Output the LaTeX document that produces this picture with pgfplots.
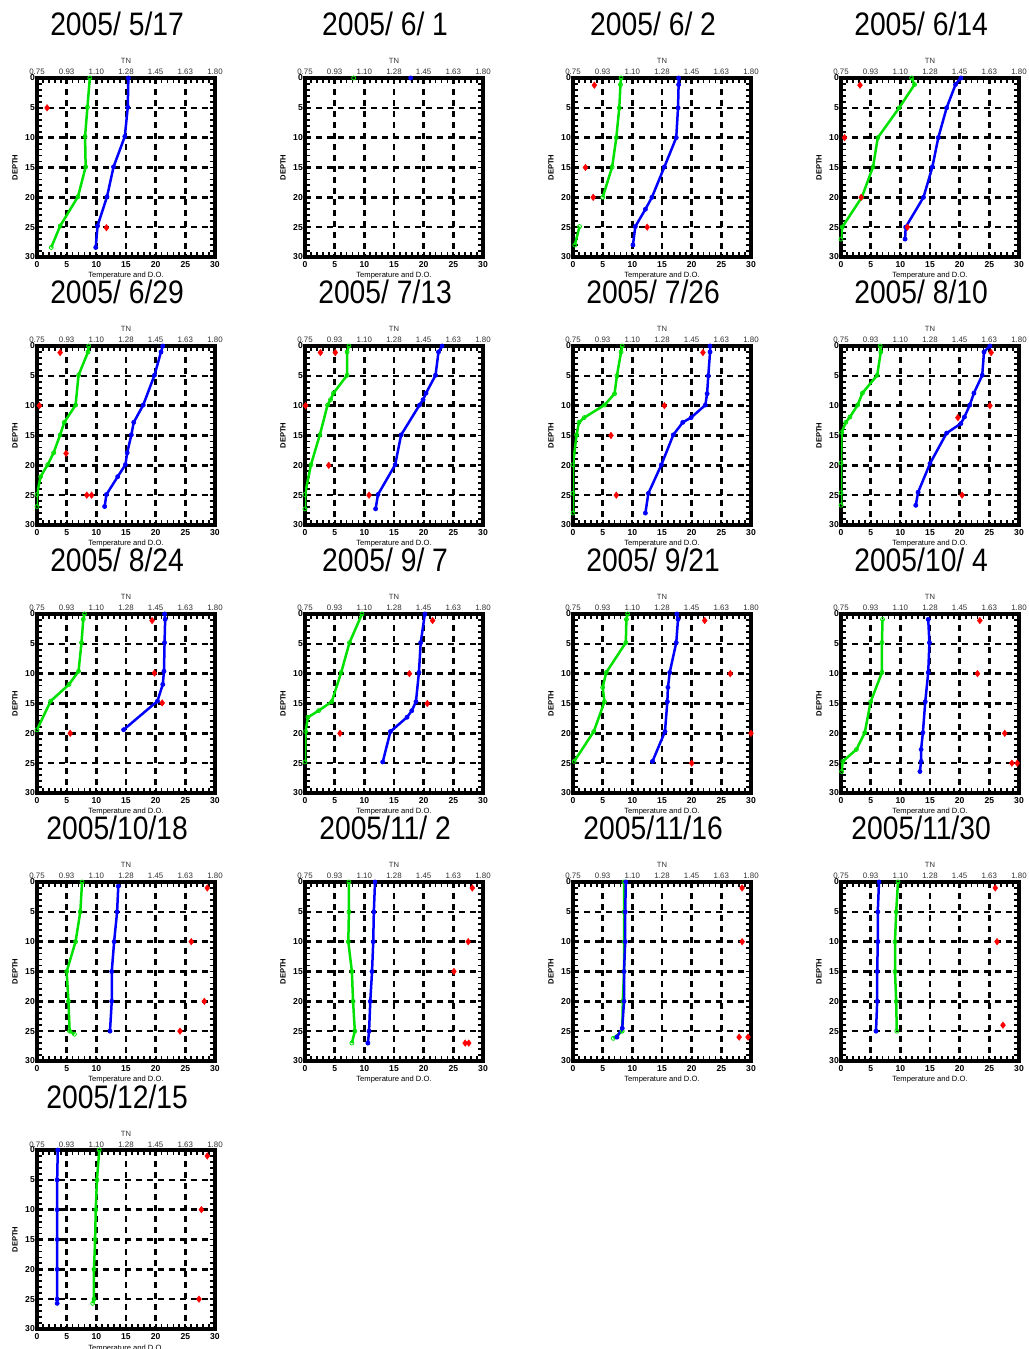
\documentclass[border=0pt]{standalone}
\usepackage{pgfplots}
\pgfplotsset{compat=1.18}
\usepackage{fontspec}
\setmainfont{Liberation Sans}
\newfontfamily\titlefont[FakeStretch=0.87]{Liberation Sans}
\definecolor{dogreen}{RGB}{0,225,0}
\definecolor{tpblue}{RGB}{0,0,255}
\definecolor{tnred}{RGB}{255,0,0}
\pgfplotsset{
  panel/.style={
    width=178pt, height=179pt, scale only axis,
    anchor=south west,
    xmin=0, xmax=30, ymin=0, ymax=30, y dir=reverse,
    xtick={0,5,...,30}, ytick={0,5,...,30},
    minor x tick num=4, minor y tick num=4,
    xtick pos=both, ytick pos=both,
    xticklabel pos=lower, yticklabel pos=left,
    tick align=inside,
    major tick length=5pt, minor tick length=5pt,
    every tick/.style={black, line width=1.8pt},
    axis line style={line width=3.5pt},
    grid=major,
    major grid style={black, line width=2.6pt, dash pattern=on 6pt off 5pt},
    tick label style={font=\bfseries\fontsize{8.6}{9}\selectfont},
    /pgf/number format/assume math mode=true,
    xticklabel style={inner sep=0pt, yshift=-4pt},
    yticklabel style={inner sep=0pt, xshift=-2pt},
    xlabel={Temperature and D.O.},
    xlabel style={font=\fontsize{7.6}{8}\selectfont, at={(axis description cs:0.5,0)}, anchor=base, yshift=-21pt, inner sep=0pt},
    ylabel={DEPTH},
    ylabel style={font=\bfseries\fontsize{7.6}{8}\selectfont, at={(axis description cs:-0.124,0.5)}, anchor=center, inner sep=0pt},
    every axis title shift=0pt,
    title style={font=\titlefont\fontsize{32.5}{35}\selectfont, at={(axis description cs:0.45,1)}, anchor=base, yshift=42pt, inner sep=0pt},
    unbounded coords=jump,
    extra description/.code={
      \foreach \p/\l in {0/0.75, 0.166667/0.93, 0.333333/1.10, 0.5/1.28, 0.666667/1.45, 0.833333/1.63, 1/1.80} {
        \node[anchor=base, inner sep=0pt, font=\fontsize{7.9}{8}\selectfont, text=black!80] at (axis description cs:\p,1) [yshift=3pt] {\l};
      }
      \node[anchor=base, inner sep=0pt, font=\fontsize{7.6}{8}\selectfont, text=black!80] at (axis description cs:0.5,1) [yshift=14pt] {TN};
    },
  },
  tp/.style={tpblue, line width=2.5pt, mark=*, mark size=2.1pt, mark options={solid, line width=0.6pt}},
  do/.style={dogreen, line width=2.5pt, mark=o, mark size=2.0pt, mark options={solid, line width=0.8pt, fill=white}},
  tn/.style={only marks, mark=diamond*, mark size=3.3pt, color=tnred},
}
\begin{document}
\begin{tikzpicture}
\useasboundingbox (0,0) rectangle (1028pt,1349pt);
% ---------- Row 1 ----------
\begin{axis}[panel, at={(37pt,1092pt)}, title={2005/ 5/17}]
\addplot[do] coordinates {(8.9,0) (8.5,4.9) (8.1,9.8) (8.2,14.9) (6.9,19.9) (3.9,24.8) (2.4,28.4)};
\addplot[tp] coordinates {(15.4,0) (15.3,4.9) (14.8,9.8) (12.9,14.9) (11.8,19.9) (10.2,24.8) (9.9,28.4)};
\addplot[tn] coordinates {(1.7,5.0) (11.7,25.1)};
\end{axis}
\begin{axis}[panel, at={(305pt,1092pt)}, title={2005/ 6/ 1}]
\addplot[do] coordinates {(8.2,0)};
\addplot[tp] coordinates {(17.8,0)};
\end{axis}
\begin{axis}[panel, at={(573pt,1092pt)}, title={2005/ 6/ 2}]
\addplot[do] coordinates {(8.1,0) (8.0,1.1) (7.8,5) (7.3,10) (6.6,14.9) (5.0,20) (nan,22) (1.1,24.9) (0.3,28)};
\addplot[tp] coordinates {(17.8,0) (17.8,1.1) (17.7,5) (17.4,10) (15.4,14.9) (13.3,20) (12.2,22) (10.5,24.9) (10.1,28)};
\addplot[tn] coordinates {(3.6,1.2) (2.1,15) (3.4,20) (12.5,25)};
\end{axis}
\begin{axis}[panel, at={(841pt,1092pt)}, title={2005/ 6/14}]
\addplot[do] coordinates {(11.9,0) (12.4,1.1) (9.8,5) (6.2,10) (5.4,14.9) (3.5,20) (0.2,25) (0,27)};
\addplot[tp] coordinates {(20.2,0) (19.3,1.1) (17.8,5) (16.4,10) (15.4,14.9) (13.9,20) (10.9,25) (10.8,27)};
\addplot[tn] coordinates {(3.2,1.2) (0.6,10) (3.4,20) (11.2,25)};
\end{axis}
% ---------- Row 2 ----------
\begin{axis}[panel, at={(37pt,824pt)}, title={2005/ 6/29}]
\addplot[do] coordinates {(8.7,0) (8.6,1) (7.0,4.9) (6.5,9.9) (4.6,12.8) (3.9,14.9) (2.8,17.9) (1.8,19.9) (0.6,21.9) (0,24.9) (0,26.9)};
\addplot[tp] coordinates {(21.2,0) (20.9,1) (19.8,4.9) (17.9,9.9) (16.3,12.8) (15.9,14.9) (15.2,17.9) (14.9,19.9) (13.6,21.9) (11.7,24.9) (11.4,26.9)};
\addplot[tn] coordinates {(3.9,1.1) (0.4,10) (4.9,18) (8.4,25) (9.2,25)};
\end{axis}
\begin{axis}[panel, at={(305pt,824pt)}, title={2005/ 7/13}]
\addplot[do] coordinates {(7.4,0) (7.1,1) (7.1,4.9) (4.8,7.9) (4.3,9) (3.8,9.9) (2.5,14.9) (1.0,19.9) (0,24.9) (0,27.3)};
\addplot[tp] coordinates {(23.1,0) (22.5,1) (22.0,4.9) (20.4,7.9) (19.9,9) (19.3,9.9) (16.2,14.9) (15.2,19.9) (12.3,24.9) (11.9,27.3)};
\addplot[tn] coordinates {(2.6,1.1) (5.1,1.1) (0.1,10) (4.0,20) (10.8,25)};
\end{axis}
\begin{axis}[panel, at={(573pt,824pt)}, title={2005/ 7/26}]
\addplot[do] coordinates {(8.3,0) (8.1,1) (7.4,5) (7.0,8) (5.3,9.9) (1.9,12) (1.0,12.8) (0.6,14.9) (0,19.9) (0,24.7) (0,28)};
\addplot[tp] coordinates {(23.1,0) (23.1,1) (22.8,5) (22.6,8) (22.3,9.9) (19.9,12) (18.5,12.8) (16.9,14.9) (14.9,19.9) (12.7,24.7) (12.2,28)};
\addplot[tn] coordinates {(21.9,1.1) (15.4,10) (6.4,15) (7.3,25)};
\end{axis}
\begin{axis}[panel, at={(841pt,824pt)}, title={2005/ 8/10}]
\addplot[do] coordinates {(6.6,0) (6.7,1) (6.1,4.9) (3.6,7.9) (2.8,9.9) (1.5,11.9) (0.8,12.8) (0.1,14.5) (0,19.6) (0,24.6) (0,26.7)};
\addplot[tp] coordinates {(25.1,0) (24.1,1) (23.8,4.9) (22.4,7.9) (21.7,9.9) (20.8,11.9) (20.2,13) (17.8,14.6) (15.0,19.7) (13.0,24.5) (12.6,26.7)};
\addplot[tn] coordinates {(25.3,1.1) (25.1,10) (19.7,12) (20.4,25)};
\end{axis}
% ---------- Row 3 ----------
\begin{axis}[panel, at={(37pt,556pt)}, title={2005/ 8/24}]
\addplot[do] coordinates {(8.0,0) (7.8,0.9) (7.5,4.8) (7.0,9.6) (5.4,11.8) (2.3,14.6) (0,19.4)};
\addplot[tp] coordinates {(21.5,0) (21.6,0.9) (21.5,4.8) (21.4,9.6) (21.2,11.8) (20.3,14.6) (14.6,19.4)};
\addplot[tn] coordinates {(19.4,1.1) (19.8,9.9) (21.1,14.9) (5.6,20)};
\end{axis}
\begin{axis}[panel, at={(305pt,556pt)}, title={2005/ 9/ 7}]
\addplot[do] coordinates {(9.6,0) (7.5,4.8) (6.1,9.8) (4.5,14.7) (2.3,16.2) (0.5,17.3) (0.1,19.7) (0,24.8)};
\addplot[tp] coordinates {(20.2,0) (19.5,4.8) (19.2,9.8) (18.7,14.7) (18.0,16.2) (17.2,17.3) (14.4,19.7) (13.1,24.8)};
\addplot[tn] coordinates {(21.5,1.1) (17.6,10) (20.6,15) (5.9,20)};
\end{axis}
\begin{axis}[panel, at={(573pt,556pt)}, title={2005/ 9/21}]
\addplot[do] coordinates {(9.2,0) (9.0,0.9) (8.9,4.8) (5.6,9.8) (5.0,12.3) (5.3,14.7) (3.5,19.7) (0.2,24.7)};
\addplot[tp] coordinates {(17.5,0) (17.7,0.9) (17.4,4.8) (16.3,9.8) (16.0,12.3) (15.9,14.7) (15.5,19.7) (13.4,24.7)};
\addplot[tn] coordinates {(22.2,1.1) (26.5,10) (30,20) (20.0,25)};
\end{axis}
\begin{axis}[panel, at={(841pt,556pt)}, title={2005/10/ 4}]
\addplot[do] coordinates {(7.0,0.9) (6.9,4.8) (6.9,9.8) (5.0,14.7) (4.0,19.9) (2.6,22.7) (0.3,24.7) (0.1,26.4)};
\addplot[tp] coordinates {(14.7,0.9) (14.9,4.8) (14.7,9.8) (14.2,14.7) (13.8,19.9) (13.5,22.7) (13.5,24.7) (13.3,26.4)};
\addplot[tn] coordinates {(23.4,1.1) (23.0,10) (27.6,20) (28.8,25) (29.7,25)};
\end{axis}
% ---------- Row 4 ----------
\begin{axis}[panel, at={(37pt,288pt)}, title={2005/10/18}]
\addplot[do] coordinates {(7.6,0) (7.3,5) (6.5,10) (5.0,15) (5.3,20) (5.5,25) (6.3,25.5)};
\addplot[tp] coordinates {(13.7,0.7) (13.5,5) (13.0,10) (12.6,15) (12.6,20) (12.3,25)};
\addplot[tn] coordinates {(28.7,1) (26.0,10) (28.2,20) (24.1,25)};
\end{axis}
\begin{axis}[panel, at={(305pt,288pt)}, title={2005/11/ 2}]
\addplot[do] coordinates {(7.4,0) (7.4,5) (7.3,10) (7.9,15) (8.1,20) (8.4,25) (7.9,27)};
\addplot[tp] coordinates {(11.8,0) (11.6,5) (11.5,10) (11.3,15) (11.0,20) (10.8,25) (10.6,27)};
\addplot[tn] coordinates {(28.2,1) (27.5,10) (25.1,15) (27.0,27) (27.6,27)};
\end{axis}
\begin{axis}[panel, at={(573pt,288pt)}, title={2005/11/16}]
\addplot[do] coordinates {(8.6,0) (8.6,5) (8.6,10) (8.6,15) (8.4,20) (8.3,25) (6.8,26.2)};
\addplot[tp] coordinates {(8.9,0) (8.8,5) (8.8,10) (8.6,15) (8.6,20) (8.3,24.5) (7.4,26)};
\addplot[tn] coordinates {(28.5,1) (28.5,10) (28.0,26) (29.5,26)};
\end{axis}
\begin{axis}[panel, at={(841pt,288pt)}, title={2005/11/30}]
\addplot[do] coordinates {(9.6,0) (9.3,5) (9.1,10) (9.1,15) (9.3,20) (9.4,25)};
\addplot[tp] coordinates {(6.4,0) (6.2,5) (6.2,10) (6.1,15) (6.1,20) (5.9,25)};
\addplot[tn] coordinates {(26.0,1) (26.3,10) (27.3,24)};
\end{axis}
% ---------- Row 5 ----------
\begin{axis}[panel, at={(37pt,20pt)}, title={2005/12/15}]
\addplot[do] coordinates {(10.5,0) (10.1,5) (9.9,10) (9.8,15) (9.6,20) (9.6,25) (9.4,25.7)};
\addplot[tp] coordinates {(3.5,0) (3.4,5) (3.4,10) (3.4,15) (3.4,20) (3.4,25) (3.4,25.7)};
\addplot[tn] coordinates {(28.7,1) (27.7,10) (27.3,25)};
\end{axis}
\end{tikzpicture}
\end{document}
